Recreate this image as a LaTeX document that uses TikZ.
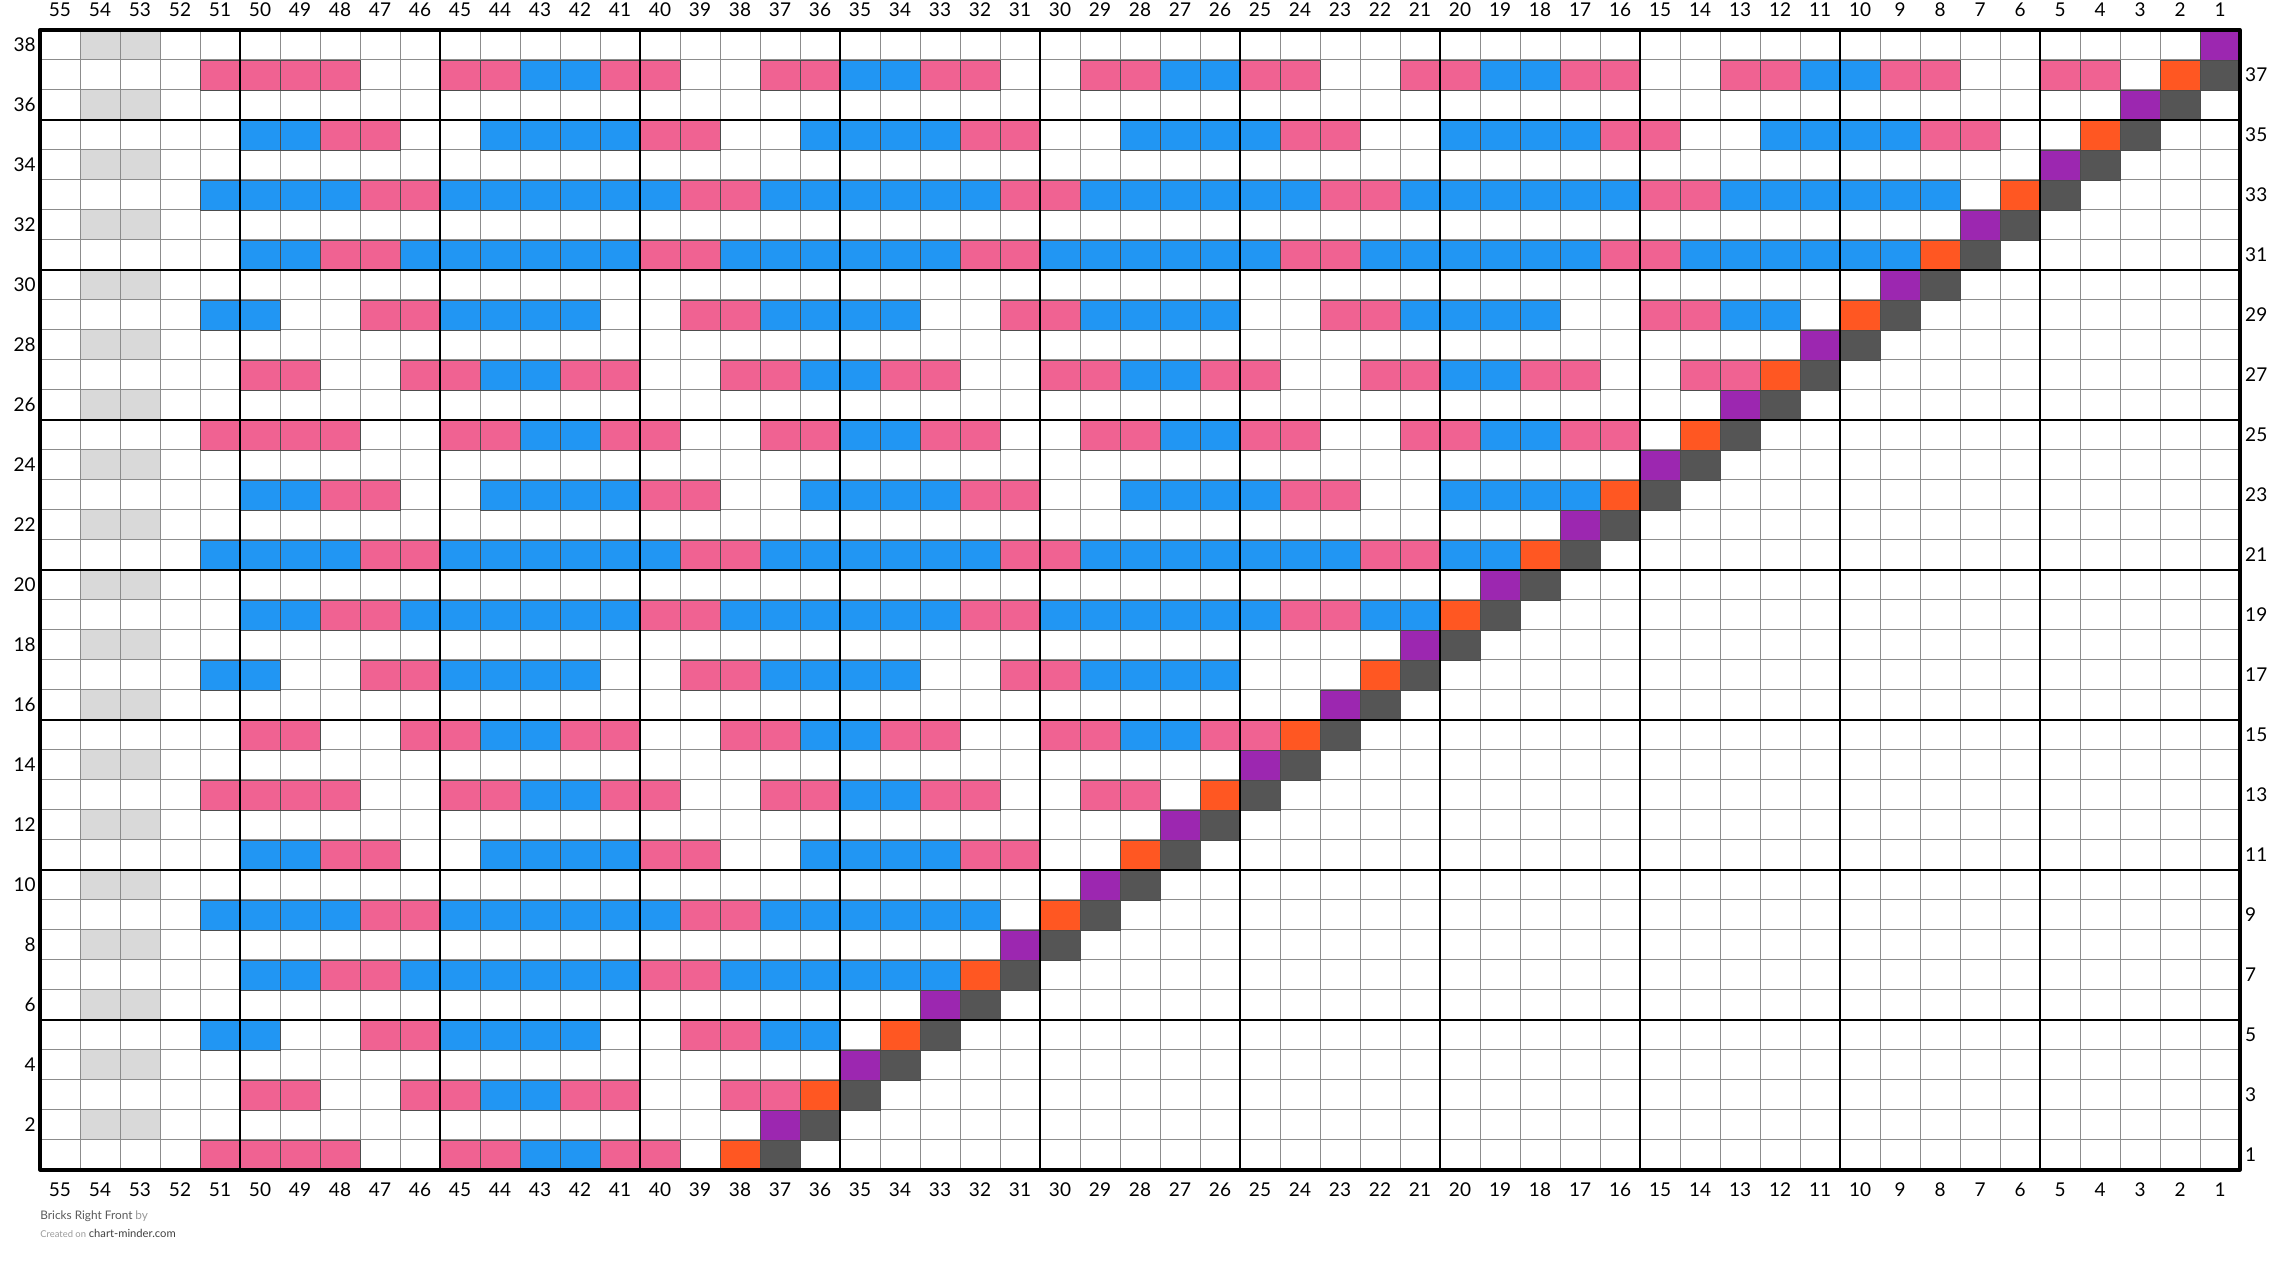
\documentclass[tikz,border=0pt]{standalone}
\usepackage{fontspec}
\setmainfont{Lato}
\definecolor{pk}{HTML}{F06292}
\definecolor{bl}{HTML}{2196F3}
\definecolor{decor}{HTML}{FF5722}
\definecolor{decpu}{HTML}{9C27B0}
\definecolor{nost}{HTML}{555555}
\definecolor{edgegray}{HTML}{D9D9D9}
\tikzset{cell/.style={draw=black!70,line width=.4pt},
  lbl/.style={inner sep=0pt,font=\fontsize{9.5}{11}\selectfont}}
% one knitted row: runs of cells from column a down to column b
\newcommand\brickrow[2]{\foreach \a/\b/\clr in {#2}
  \foreach \x in {\a,...,\b}\filldraw[fill=\clr,cell] ({55-\x},#1-1) rectangle +(1,1);}
\begin{document}
\begin{tikzpicture}[x=20pt,y=15pt,line join=round]
\useasboundingbox (-1,-3.1) rectangle (56,39);
\foreach \r in {2,4,...,38}\fill[edgegray] (1,\r-1) rectangle (3,\r);
\foreach \i in {0,...,55}\draw[black!45,line width=.5pt] (\i,0)--(\i,38);
\foreach \j in {0,...,38}\draw[black!45,line width=.5pt] (0,\j)--(55,\j);
\brickrow{37}{51/48/pk,45/44/pk,43/42/bl,41/40/pk,37/36/pk,35/34/bl,33/32/pk,29/28/pk,27/26/bl,25/24/pk,21/20/pk,19/18/bl,17/16/pk,13/12/pk,11/10/bl,9/8/pk,5/4/pk}
\brickrow{35}{50/49/bl,48/47/pk,44/41/bl,40/39/pk,36/33/bl,32/31/pk,28/25/bl,24/23/pk,20/17/bl,16/15/pk,12/9/bl,8/7/pk}
\brickrow{33}{51/48/bl,47/46/pk,45/40/bl,39/38/pk,37/32/bl,31/30/pk,29/24/bl,23/22/pk,21/16/bl,15/14/pk,13/8/bl}
\brickrow{31}{50/49/bl,48/47/pk,46/41/bl,40/39/pk,38/33/bl,32/31/pk,30/25/bl,24/23/pk,22/17/bl,16/15/pk,14/9/bl}
\brickrow{29}{51/50/bl,47/46/pk,45/42/bl,39/38/pk,37/34/bl,31/30/pk,29/26/bl,23/22/pk,21/18/bl,15/14/pk,13/12/bl}
\brickrow{27}{50/49/pk,46/45/pk,44/43/bl,42/41/pk,38/37/pk,36/35/bl,34/33/pk,30/29/pk,28/27/bl,26/25/pk,22/21/pk,20/19/bl,18/17/pk,14/13/pk}
\brickrow{25}{51/48/pk,45/44/pk,43/42/bl,41/40/pk,37/36/pk,35/34/bl,33/32/pk,29/28/pk,27/26/bl,25/24/pk,21/20/pk,19/18/bl,17/16/pk}
\brickrow{23}{50/49/bl,48/47/pk,44/41/bl,40/39/pk,36/33/bl,32/31/pk,28/25/bl,24/23/pk,20/17/bl}
\brickrow{21}{51/48/bl,47/46/pk,45/40/bl,39/38/pk,37/32/bl,31/30/pk,29/23/bl,22/21/pk,20/19/bl}
\brickrow{19}{50/49/bl,48/47/pk,46/41/bl,40/39/pk,38/33/bl,32/31/pk,30/25/bl,24/23/pk,22/21/bl}
\brickrow{17}{51/50/bl,47/46/pk,45/42/bl,39/38/pk,37/34/bl,31/30/pk,29/26/bl}
\brickrow{15}{50/49/pk,46/45/pk,44/43/bl,42/41/pk,38/37/pk,36/35/bl,34/33/pk,30/29/pk,28/27/bl,26/25/pk}
\brickrow{13}{51/48/pk,45/44/pk,43/42/bl,41/40/pk,37/36/pk,35/34/bl,33/32/pk,29/28/pk}
\brickrow{11}{50/49/bl,48/47/pk,44/41/bl,40/39/pk,36/33/bl,32/31/pk}
\brickrow{9}{51/48/bl,47/46/pk,45/40/bl,39/38/pk,37/32/bl}
\brickrow{7}{50/49/bl,48/47/pk,46/41/bl,40/39/pk,38/33/bl}
\brickrow{5}{51/50/bl,47/46/pk,45/42/bl,39/38/pk,37/36/bl}
\brickrow{3}{50/49/pk,46/45/pk,44/43/bl,42/41/pk,38/37/pk}
\brickrow{1}{51/48/pk,45/44/pk,43/42/bl,41/40/pk}
\foreach \r in {1,3,...,37}\filldraw[fill=decor,cell] (16+\r,\r-1) rectangle +(1,1);
\foreach \r in {2,4,...,38}\filldraw[fill=decpu,cell] (16+\r,\r-1) rectangle +(1,1);
\foreach \r in {1,...,37}\filldraw[fill=nost,cell] (17+\r,\r-1) rectangle +(1,1);
\foreach \i in {5,10,...,50}\draw[line width=1pt] (\i,0)--(\i,38);
\foreach \j in {5,10,...,35}\draw[line width=1pt] (0,\j)--(55,\j);
\draw[line width=1.6pt] (0,0) rectangle (55,38);
\foreach \x in {1,...,55}{
  \node[lbl] (top\x) at ({55.5-\x},38.67) {\x};
  \node[lbl] (bot\x) at ({55.5-\x},-.66) {\x};}
\foreach \r in {2,4,...,38}\node[lbl,anchor=east] (left\r) at (-.1,\r-.5) {\r};
\foreach \r in {1,3,...,37}\node[lbl,anchor=west] (right\r) at (55.12,\r-.5) {\r};
\node[anchor=base west,inner sep=0pt,font=\fontsize{5.9}{6.5}\selectfont] (title) at (0,-1.66)
  {\color{black!65}Bricks Right Front \color{black!40}by};
\node[anchor=base west,inner sep=0pt,font=\fontsize{5.6}{6}\selectfont] (credit) at (0,-2.25)
  {{\fontsize{4.7}{5}\selectfont\color{black!40}Created on} \color{black!75}chart-minder.com};
\end{tikzpicture}
\end{document}
